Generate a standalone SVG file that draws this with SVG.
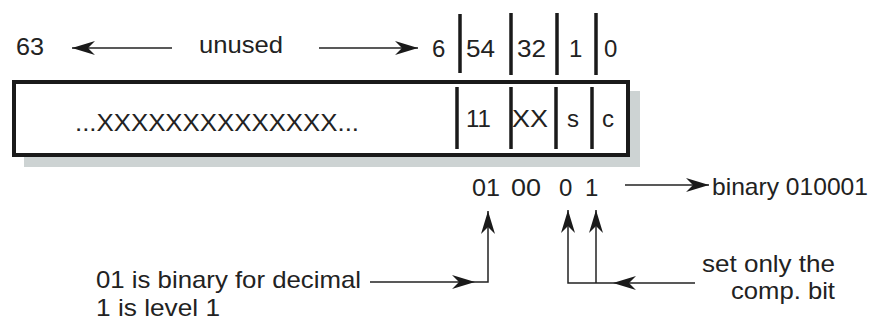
<svg xmlns="http://www.w3.org/2000/svg" width="874" height="320" viewBox="0 0 874 320">
  <style>
    text { font-family: "Liberation Sans", Arial, sans-serif; font-size: 24px; fill: #222; }
    .bar { stroke: #1a1a1a; stroke-width: 3.5; }
    .wire { fill: none; stroke: #222; stroke-width: 1.5; }
    .arrow { marker-end: url(#head); }
  </style>
  <defs>
    <marker id="head" viewBox="-24 -8 26 16" refX="0" refY="0" markerWidth="26" markerHeight="16" markerUnits="userSpaceOnUse" orient="auto">
      <path d="M0 0 L-23 -7 L-16 0 L-23 7 Z" fill="#1a1a1a"/>
    </marker>
  </defs>

  <rect width="874" height="320" fill="#fff"/>

  <!-- bit numbering above the register -->
  <g id="bit-scale">
    <text x="16" y="55" textLength="28" lengthAdjust="spacingAndGlyphs">63</text>
    <text x="199" y="53" textLength="84" lengthAdjust="spacingAndGlyphs">unused</text>
    <text x="432" y="57">6</text>
    <text x="466" y="57" textLength="29" lengthAdjust="spacingAndGlyphs">54</text>
    <text x="517" y="57" textLength="29" lengthAdjust="spacingAndGlyphs">32</text>
    <text x="569" y="57">1</text>
    <text x="604" y="57">0</text>
    <line class="bar" x1="460" y1="14" x2="460" y2="73"/>
    <line class="bar" x1="511" y1="13" x2="511" y2="75"/>
    <line class="bar" x1="557" y1="13" x2="557" y2="75"/>
    <line class="bar" x1="596" y1="13" x2="596" y2="75"/>
  </g>

  <!-- the 64-bit register -->
  <g id="register">
    <rect x="24" y="91" width="616" height="76" fill="#cdd3d3"/>
    <rect x="14" y="82" width="614" height="73" fill="#fff" stroke="#1a1a1a" stroke-width="4"/>
    <text x="75" y="131" textLength="284" lengthAdjust="spacingAndGlyphs">...XXXXXXXXXXXXXX...</text>
    <line class="bar" x1="457" y1="87" x2="457" y2="149"/>
    <line class="bar" x1="511" y1="87" x2="511" y2="149"/>
    <line class="bar" x1="556" y1="87" x2="556" y2="149"/>
    <line class="bar" x1="592" y1="87" x2="592" y2="149"/>
    <text x="466" y="127">11</text>
    <text x="512" y="127" textLength="36" lengthAdjust="spacingAndGlyphs">XX</text>
    <text x="567" y="127">s</text>
    <text x="602" y="127">c</text>
  </g>

  <!-- resulting bit values -->
  <g id="bit-values">
    <text x="472" y="196" textLength="28" lengthAdjust="spacingAndGlyphs">01</text>
    <text x="511" y="196" textLength="30" lengthAdjust="spacingAndGlyphs">00</text>
    <text x="559" y="196">0</text>
    <text x="585" y="196">1</text>
    <text x="712" y="195" textLength="156" lengthAdjust="spacingAndGlyphs">binary 010001</text>
  </g>

  <!-- annotations -->
  <g id="level-note">
    <text x="96" y="288" textLength="265" lengthAdjust="spacingAndGlyphs">01 is binary for decimal</text>
    <text x="96" y="316" textLength="124" lengthAdjust="spacingAndGlyphs">1 is level 1</text>
  </g>
  <g id="comp-note">
    <text x="702" y="272" textLength="133" lengthAdjust="spacingAndGlyphs">set only the</text>
    <text x="731" y="299" textLength="104" lengthAdjust="spacingAndGlyphs">comp. bit</text>
  </g>

  <!-- connectors -->
  <g id="connectors">
    <path class="wire arrow" d="M172 48 H72"/>
    <path class="wire arrow" d="M319 48 H418"/>
    <path class="wire arrow" d="M625 185 H709"/>
    <path class="wire arrow" d="M370 282 H475"/>
    <path class="wire arrow" d="M475 282 H488 V211"/>
    <path class="wire arrow" d="M695 283 H613"/>
    <path class="wire arrow" d="M613 283 H568 V210"/>
    <path class="wire arrow" d="M596 283 V210"/>
  </g>
</svg>
